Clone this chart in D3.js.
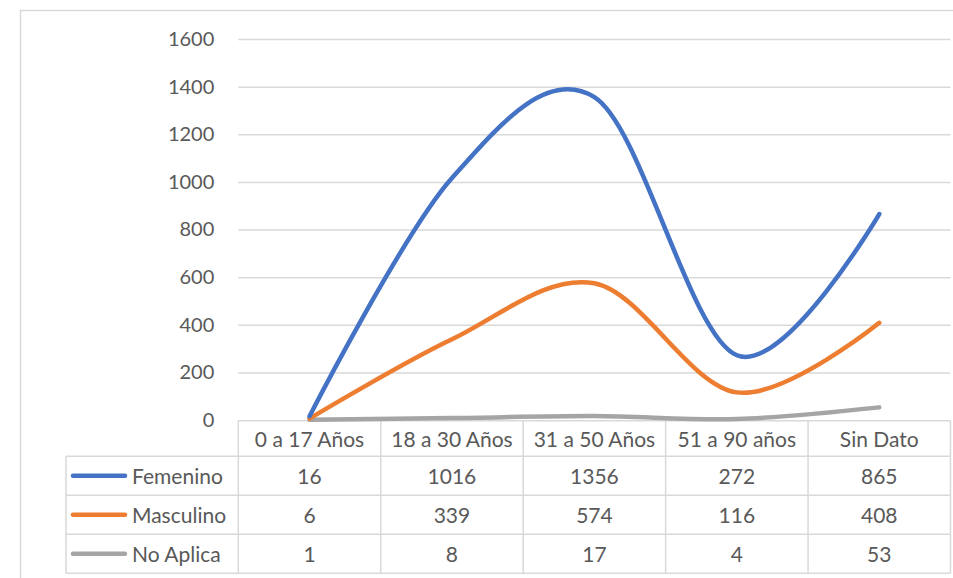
<!DOCTYPE html>
<html>
<head>
<meta charset="utf-8">
<script src="https://cdn.jsdelivr.net/npm/d3@7"></script>
<style>
  html, body { margin: 0; padding: 0; background: #fff; }
  svg { display: block; }
  text { font-family: Lato, "Open Sans", sans-serif; fill: #595959; }
</style>
</head>
<body>
<svg id="chart" width="953" height="578"></svg>
<script>
// Age groups and counts per sex
const categories = ["0 a 17 Años", "18 a 30 Años", "31 a 50 Años", "51 a 90 años", "Sin Dato"];
const femenino  = [16, 1016, 1356, 272, 865];
const masculino = [6, 339, 574, 116, 408];
const noAplica  = [1, 8, 17, 4, 53];
const seriesNames = ["Femenino", "Masculino", "No Aplica"];
const yTicks = [0, 200, 400, 600, 800, 1000, 1200, 1400, 1600];

const colors = ["#4472C4", "#ED7D31", "#A5A5A5"];
const series = [femenino, masculino, noAplica].map((values, i) => ({
  name: seriesNames[i], values, color: colors[i]
}));

const W = 953, H = 578;
const plot = { left: 238.3, right: 950.5, top: 39, bottom: 420 };
const legendLeft = 66;
const headerH = 35.5, rowH = 39;
const fontSize = "21px";

const svg = d3.select("#chart");
const grid = "#d9d9d9";

// Chart frame (left and top edges)
svg.append("path")
  .attr("d", `M20.5,${H} V10.5 H${W}`)
  .attr("fill", "none").attr("stroke", grid).attr("stroke-width", 1.5);

const x = d3.scaleBand().domain(categories).range([plot.left, plot.right]).padding(0);
const y = d3.scaleLinear().domain([0, 1600]).range([plot.bottom, plot.top]);
const xc = c => x(c) + x.bandwidth() / 2;

// Horizontal gridlines and value axis labels
const yAxis = d3.axisLeft(y).tickValues(yTicks).tickFormat(d3.format("d"))
  .tickSize(-(plot.right - plot.left)).tickPadding(24);
const gy = svg.append("g").attr("transform", `translate(${plot.left},0)`).call(yAxis);
gy.select(".domain").remove();
gy.selectAll(".tick line").attr("stroke", grid).attr("stroke-width", 1.5);
gy.selectAll(".tick text")
  .attr("x", -24)
  .style("font-family", "Lato, 'Open Sans', sans-serif")
  .style("font-size", "20px").attr("fill", "#595959");
gy.selectAll(".tick").filter(d => d === 0).select("line").remove();

// Data table
const tableTop = plot.bottom + 0.7;
const rowTops = [tableTop, tableTop + headerH];
for (let i = 1; i <= series.length; i++) rowTops.push(tableTop + headerH + i * rowH);
const tableBottom = rowTops[rowTops.length - 1];
const tg = svg.append("g").attr("fill", "none").attr("stroke", grid).attr("stroke-width", 1.5);

// horizontal rules
tg.append("line").attr("x1", plot.left).attr("x2", plot.right).attr("y1", rowTops[0]).attr("y2", rowTops[0]);
rowTops.slice(1).forEach(ry => {
  tg.append("line").attr("x1", legendLeft).attr("x2", plot.right).attr("y1", ry).attr("y2", ry);
});
// vertical rules
tg.append("line").attr("x1", legendLeft).attr("x2", legendLeft).attr("y1", rowTops[1]).attr("y2", tableBottom);
categories.forEach(c => {
  tg.append("line").attr("x1", x(c)).attr("x2", x(c)).attr("y1", rowTops[0]).attr("y2", tableBottom);
});
tg.append("line").attr("x1", plot.right).attr("x2", plot.right).attr("y1", rowTops[0]).attr("y2", tableBottom);

// header labels
svg.append("g").selectAll("text").data(categories).join("text")
  .attr("x", d => xc(d)).attr("y", (rowTops[0] + rowTops[1]) / 2)
  .attr("text-anchor", "middle").attr("dominant-baseline", "central")
  .style("font-size", fontSize).text(d => d);

// series rows: legend key, name and values
series.forEach((s, i) => {
  const cy = (rowTops[i + 1] + rowTops[i + 2]) / 2;
  svg.append("line")
    .attr("x1", 73).attr("x2", 125).attr("y1", cy).attr("y2", cy)
    .attr("stroke", s.color).attr("stroke-width", 4.5).attr("stroke-linecap", "round");
  svg.append("text").attr("x", 132).attr("y", cy)
    .attr("dominant-baseline", "central").style("font-size", fontSize).text(s.name);
  svg.append("g").selectAll("text").data(s.values).join("text")
    .attr("x", (d, j) => xc(categories[j])).attr("y", cy)
    .attr("text-anchor", "middle").attr("dominant-baseline", "central")
    .style("font-size", fontSize).text(d => d);
});

// Smoothed series lines
const line = d3.line()
  .x((d, j) => xc(categories[j]))
  .y(d => y(d))
  .curve(d3.curveCatmullRom.alpha(0));
[...series].reverse().forEach(s => {
  svg.append("path").datum(s.values)
    .attr("d", line)
    .attr("fill", "none").attr("stroke", s.color)
    .attr("stroke-width", 4.5).attr("stroke-linecap", "round").attr("stroke-linejoin", "round");
});
</script>
</body>
</html>
